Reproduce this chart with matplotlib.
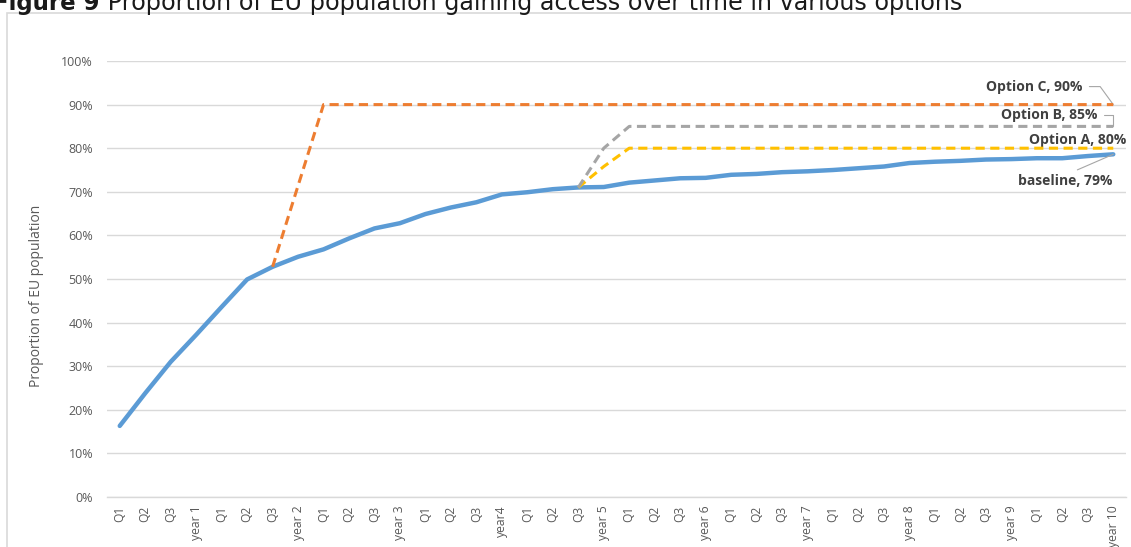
import numpy as np
import matplotlib
matplotlib.use("Agg")
import matplotlib.pyplot as plt
from matplotlib.patches import Rectangle

# x categories: three quarters then the year label, ten times
quarters = ["Q1", "Q2", "Q3"]
years = ["year 1", "year 2", "year 3", "year4", "year 5",
         "year 6", "year 7", "year 8", "year 9", "year 10"]
labels = []
for yr in years:
    labels += quarters + [yr]

# values (share of EU population)
baseline = [0.163, 0.238, 0.310, 0.372, 0.436, 0.499, 0.528, 0.551, 0.568, 0.593,
            0.616, 0.628, 0.649, 0.664, 0.676, 0.694, 0.699, 0.706, 0.710, 0.711,
            0.721, 0.726, 0.731, 0.732, 0.739, 0.741, 0.745, 0.747, 0.750, 0.754,
            0.758, 0.766, 0.769, 0.771, 0.774, 0.775, 0.777, 0.777, 0.782, 0.786]
option_c = [None] * 6 + [0.528, 0.714] + [0.90] * 32
option_b = [None] * 18 + [0.710, 0.800] + [0.85] * 20
option_a = [None] * 18 + [0.710, 0.758] + [0.80] * 20

x = np.arange(len(labels))
to_arr = lambda v: np.array([np.nan if a is None else a for a in v], dtype=float)

plt.rcParams['font.family'] = ['Open Sans', 'DejaVu Sans']

fig = plt.figure(figsize=(11.31, 5.47), dpi=100)
ax = fig.add_axes([107 / 1131, 1 - 497 / 547, (1126 - 107) / 1131, (497 - 61) / 547])

# frame around the chart
fig.patches.append(Rectangle((7 / 1131, -0.05), 1.1, 1 - 12.5 / 547 + 0.05,
                             transform=fig.transFigure, fill=False,
                             edgecolor='#d9d9d9', lw=1.2))

ax.plot(x, baseline, color='#5B9BD5', lw=3.2, solid_capstyle='round', zorder=3)
ax.plot(x, to_arr(option_a), color='#FFC000', lw=2.2, dashes=(3, 1.8), zorder=4)
ax.plot(x, to_arr(option_b), color='#A5A5A5', lw=2.2, dashes=(3, 1.8), zorder=4)
ax.plot(x, to_arr(option_c), color='#ED7D31', lw=2.2, dashes=(3, 1.8), zorder=5)

ax.set_xlim(-0.5, len(labels) - 0.5)
ax.set_ylim(0, 1.0)
ax.set_yticks(np.arange(0, 1.01, 0.1))
ax.set_yticklabels([f"{int(round(v * 100))}%" for v in np.arange(0, 1.01, 0.1)])
ax.set_xticks(x)
ax.set_xticklabels(labels, rotation=90)
ax.tick_params(axis='both', length=0, colors='#595959')
ax.tick_params(axis='y', pad=10, labelsize=9)
ax.tick_params(axis='x', pad=6, labelsize=8.7)
ax.yaxis.grid(True, color='#d9d9d9', lw=1.0)
ax.set_axisbelow(True)
for s in ['top', 'right', 'left']:
    ax.spines[s].set_visible(False)
ax.spines['bottom'].set_color('#d9d9d9')
ax.spines['bottom'].set_linewidth(1.0)

ax.set_ylabel("Proportion of EU population", fontsize=10, color='#595959')
ax.yaxis.set_label_coords(-0.062, 0.462)

# end labels
lab = dict(fontsize=10, fontweight='bold', color='#404040', ha='center', va='center',
           xycoords='data', textcoords='offset pixels')
lead = dict(arrowstyle='-', color='#a6a6a6', lw=0.8, shrinkA=3, shrinkB=0)
last = len(labels) - 1
ax.annotate("Option C, 90%", xy=(last, option_c[-1]), xytext=(-79, 18),
            arrowprops=dict(lead, relpos=(1, 0.5),
                            connectionstyle='angle,angleA=0,angleB=126,rad=0'), **lab)
ax.annotate("Option B, 85%", xy=(last, option_b[-1]), xytext=(-64, 11),
            arrowprops=dict(lead, relpos=(1, 0.5),
                            connectionstyle='angle,angleA=0,angleB=90,rad=0'), **lab)
ax.annotate("Option A, 80%", xy=(last, option_a[-1]), xytext=(-36, 8), **lab)
ax.annotate("baseline, 79%", xy=(last, baseline[-1]), xytext=(-48, -27),
            arrowprops=dict(lead, relpos=(0.52, 1)), **lab)

# title, partly cut off at the top of the picture
t1 = fig.text(-7 / 1131, 1 - 10 / 547, "Figure 9", fontsize=16.5, fontweight='bold',
              va='baseline', family='DejaVu Sans', color='#1a1a1a')
r = fig.canvas.get_renderer()
x1 = t1.get_window_extent(r).x1 / fig.bbox.width
fig.text(x1, 1 - 10 / 547, " Proportion of EU population gaining access over time in various options",
         fontsize=17.2, va='baseline', family='DejaVu Sans', color='#1a1a1a')

fig.savefig("out.png", dpi=100)
